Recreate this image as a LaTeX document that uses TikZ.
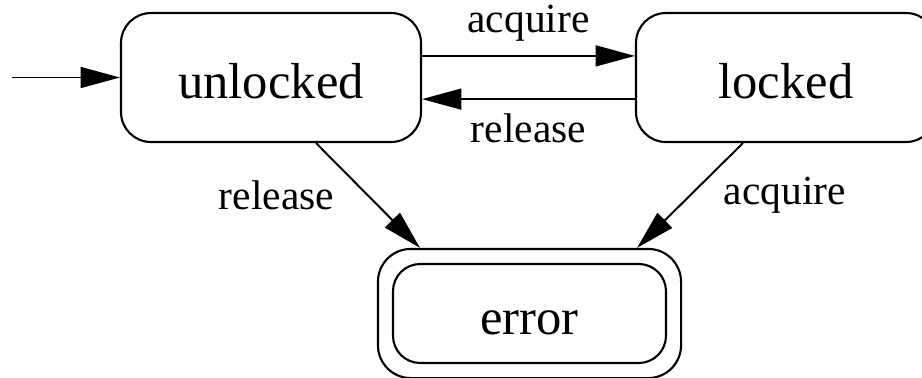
\documentclass[tikz,border=0pt]{standalone}
\usepackage{fontspec}
\setmainfont{Liberation Serif}
\usetikzlibrary{arrows.meta,positioning,fit}

\tikzset{
  state/.style={draw, line width=1.5pt, rounded corners=0.75cm,
    minimum width=7.5cm, minimum height=3.225cm,
    font=\fontsize{36}{40}\selectfont, text height=1.12cm, text depth=0.05cm},
  final/.style={draw, line width=1.5pt, rounded corners=0.82cm, inner sep=0.35cm},
  edge/.style={line width=1.4pt, -{Triangle[length=0.98cm,width=0.52cm]}},
  lbl/.style={font=\fontsize{29.5}{33}\selectfont, inner sep=0.35cm}
}

\begin{document}
\begin{tikzpicture}
\path[use as bounding box, clip] (0,0) rectangle (23.05,-9.425);
\node[state] (unlocked) at (6.775,-1.9375) {unlocked};
\node[state] (locked) at (19.65,-1.9375) {locked};
\node[state, minimum width=6.825cm, minimum height=2.475cm, rounded corners=0.68cm] (error) at (13.2375,-7.8375) {error};
\node[final, fit=(error)] (errorbox) {};
\coordinate[left=2.7cm of unlocked.west] (start);
\draw[edge] (start) -- (unlocked.west);
\draw[edge] ([yshift=0.54cm]unlocked.east) -- node[lbl, above] {acquire} ([yshift=0.54cm]locked.west);
\draw[edge] ([yshift=-0.54cm]locked.west) -- node[lbl, below] {release} ([yshift=-0.54cm]unlocked.east);
\draw[edge] ([xshift=1.125cm]unlocked.south) -- node[lbl, left=0.475cm] {release} ([xshift=-2.7375cm]errorbox.north);
\draw[edge] ([xshift=-1.075cm]locked.south) -- node[lbl, right=0.475cm] {acquire} ([xshift=2.6875cm]errorbox.north);
\end{tikzpicture}
\end{document}
